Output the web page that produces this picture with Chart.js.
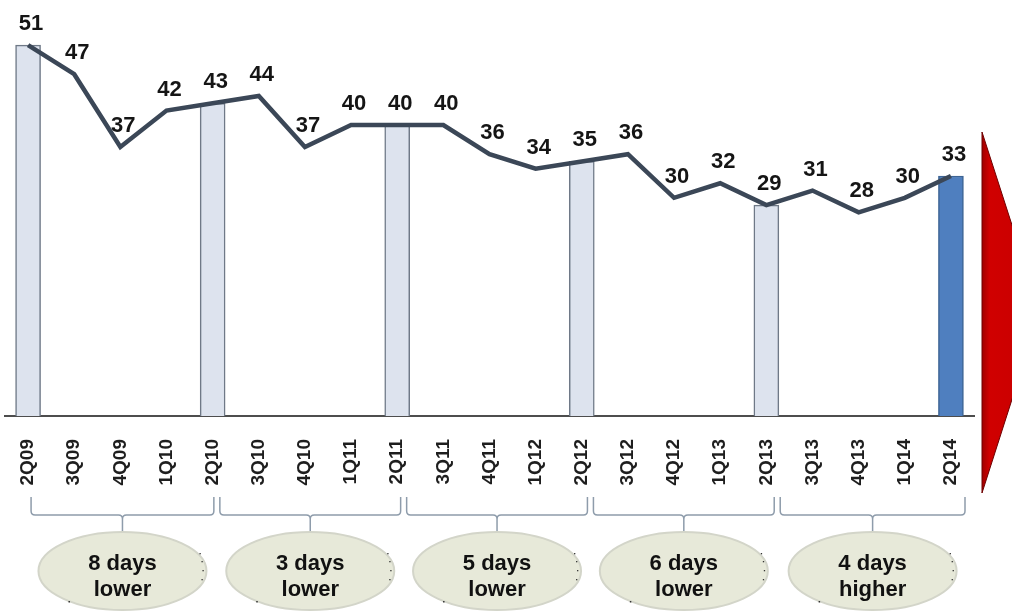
<!DOCTYPE html>
<html>
<head>
<meta charset="utf-8">
<script src="https://cdn.jsdelivr.net/npm/chart.js@4.4.1/dist/chart.umd.min.js"></script>
<style>
  html, body { margin: 0; padding: 0; background: #fff; }
  #wrap { width: 1012px; height: 611px; }
</style>
</head>
<body>
<div id="wrap"><canvas id="days-chart" width="1012" height="611"></canvas></div>
<script>
// quarters on the x axis
const quarters = ['2Q09', '3Q09', '4Q09', '1Q10', '2Q10', '3Q10', '4Q10', '1Q11', '2Q11',
    '3Q11', '4Q11', '1Q12', '2Q12', '3Q12', '4Q12', '1Q13', '2Q13', '3Q13', '4Q13', '1Q14', '2Q14'];

// days per quarter (line)
const dayValues = [51, 47, 37, 42, 43, 44, 37, 40, 40, 40, 36, 34, 35, 36, 30, 32, 29, 31, 28, 30, 33];

// year-on-year comparison quarters (bars)
const barQuarters = ['2Q09', '2Q10', '2Q11', '2Q12', '2Q13', '2Q14'];
const barValues = [51, 43, 40, 35, 29, 33];

// bracket groups under the axis
const groupStart = ['2Q09', '2Q10', '2Q11', '2Q12', '2Q13'];
const groupEnd = ['2Q10', '2Q11', '2Q12', '2Q13', '2Q14'];
const groupLine1 = ['8 days', '3 days', '5 days', '6 days', '4 days'];
const groupLine2 = ['lower', 'lower', 'lower', 'lower', 'higher'];

const FONT = "'Liberation Sans', Arial, sans-serif";

// bar series lined up with the quarters, empty elsewhere
const barSeries = quarters.map(q => {
    const i = barQuarters.indexOf(q);
    return i >= 0 ? barValues[i] : null;
});
const barFill = quarters.map(q => q === '2Q14' ? '#4f7fbf' : '#dde3ee');
const barBorder = quarters.map(q => q === '2Q14' ? '#3d6494' : '#6f7987');

// value labels above the line points
const valueLabels = {
    id: 'valueLabels',
    afterDatasetsDraw(chart) {
        const meta = chart.getDatasetMeta(0);
        const ctx = chart.ctx;
        ctx.save();
        ctx.font = 'bold 22px ' + FONT;
        ctx.fillStyle = '#151515';
        ctx.textAlign = 'center';
        ctx.textBaseline = 'alphabetic';
        meta.data.forEach((pt, i) => {
            ctx.fillText(String(dayValues[i]), pt.x + 3, pt.y - 15);
        });
        ctx.restore();
    }
};

// brackets + ellipses with the comparison text, and the red arrow on the right
const annotations = {
    id: 'annotations',
    afterDraw(chart) {
        const ctx = chart.ctx;
        const xs = chart.scales.x;
        const x0 = xs.getPixelForValue(0);
        // the bracket row runs a touch wider than the axis
        const px = (q) => x0 + (xs.getPixelForValue(quarters.indexOf(q)) - x0) * 1.012 + 3;

        ctx.save();
        groupStart.forEach((q, g) => {
            const a = px(q) + (g === 0 ? 0 : 2);
            const b = px(groupEnd[g]) - 4 + (g === groupStart.length - 1 ? 4 : 0);
            const mid = (a + b) / 2;
            const top = 497, bar = 515, tip = 531, r = 4;

            ctx.strokeStyle = '#8e9cab';
            ctx.lineWidth = 1.5;
            ctx.beginPath();
            ctx.moveTo(a, top);
            ctx.lineTo(a, bar - r);
            ctx.quadraticCurveTo(a, bar, a + r, bar);
            ctx.lineTo(mid - r, bar);
            ctx.quadraticCurveTo(mid, bar, mid, bar + r);
            ctx.lineTo(mid, tip);
            ctx.moveTo(b, top);
            ctx.lineTo(b, bar - r);
            ctx.quadraticCurveTo(b, bar, b - r, bar);
            ctx.lineTo(mid + r, bar);
            ctx.quadraticCurveTo(mid, bar, mid, bar + r);
            ctx.stroke();

            // ellipse
            const cy = 571, rx = 84, ry = 39;
            ctx.beginPath();
            ctx.ellipse(mid, cy, rx, ry, 0, 0, Math.PI * 2);
            ctx.fillStyle = '#e7e9d9';
            ctx.fill();
            ctx.strokeStyle = '#d3d5c9';
            ctx.lineWidth = 2;
            ctx.stroke();

            // little specks along the right edge
            ctx.fillStyle = '#333';
            [[77, 553], [79, 561], [80, 570], [79, 579]].forEach(d => {
                ctx.fillRect(mid + d[0], d[1], 1.3, 1.3);
            });
            ctx.fillRect(mid - 54, 601, 1.5, 1.5);

            ctx.fillStyle = '#111';
            ctx.font = 'bold 22px ' + FONT;
            ctx.textAlign = 'center';
            ctx.textBaseline = 'alphabetic';
            ctx.fillText(groupLine1[g], mid, 570);
            ctx.fillText(groupLine2[g], mid, 596);
        });

        // red arrow head
        const grad = ctx.createLinearGradient(982, 0, 1012, 0);
        grad.addColorStop(0, '#a00000');
        grad.addColorStop(0.25, '#d00000');
        grad.addColorStop(1, '#cc0000');
        ctx.beginPath();
        ctx.moveTo(982, 132);
        ctx.lineTo(1040, 312);
        ctx.lineTo(982, 493);
        ctx.closePath();
        ctx.fillStyle = grad;
        ctx.fill();
        ctx.strokeStyle = '#6e0000';
        ctx.lineWidth = 1;
        ctx.stroke();
        ctx.restore();
    }
};

const ctx = document.getElementById('days-chart').getContext('2d');
new Chart(ctx, {
    data: {
        labels: quarters,
        datasets: [
            {
                type: 'line',
                data: dayValues,
                borderColor: '#3b4757',
                borderWidth: 4.5,
                pointRadius: 0,
                tension: 0,
                order: 0
            },
            {
                type: 'bar',
                data: barSeries,
                backgroundColor: barFill,
                borderColor: barBorder,
                borderWidth: 1.5,
                barThickness: 25,
                order: 1
            }
        ]
    },
    options: {
        responsive: false,
        animation: false,
        layout: { padding: { left: 5, right: 38, top: 0, bottom: 0 } },
        plugins: {
            legend: { display: false },
            tooltip: { enabled: false }
        },
        scales: {
            x: {
                grid: { display: true, drawOnChartArea: false, drawTicks: false },
                border: { display: true, color: '#4d4d4d', width: 2 },
                ticks: {
                    minRotation: 90,
                    maxRotation: 90,
                    autoSkip: false,
                    padding: 23,
                    color: '#1e1e1e',
                    font: { family: FONT, size: 19, weight: 'bold' }
                },
                afterFit(scale) {
                    scale.height = 195;
                }
            },
            y: {
                display: false,
                min: 0,
                max: 57.2
            }
        }
    },
    plugins: [valueLabels, annotations]
});
</script>
</body>
</html>
